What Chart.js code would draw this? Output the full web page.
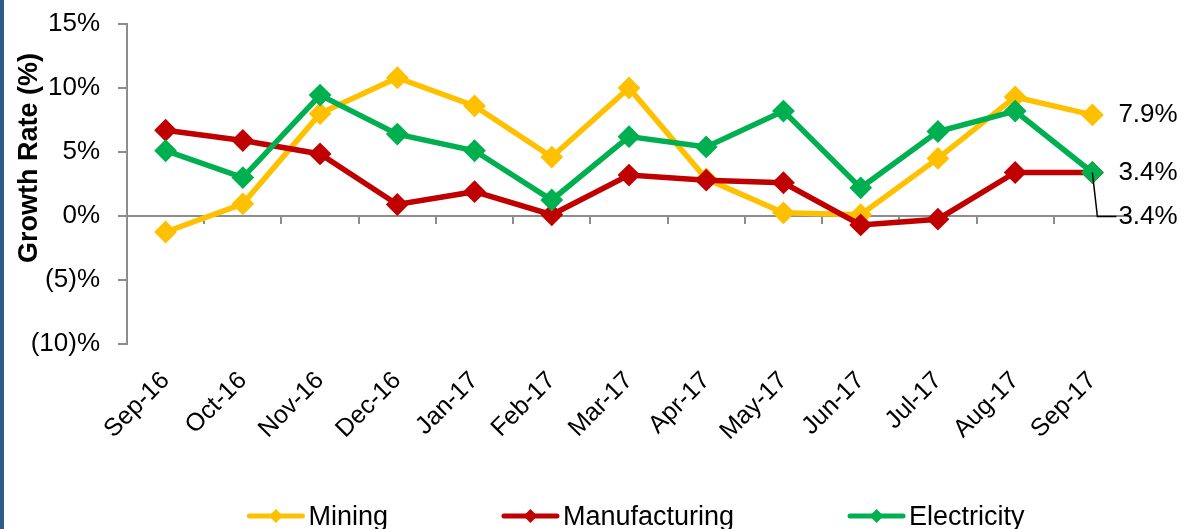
<!DOCTYPE html>
<html>
<head>
<meta charset="utf-8">
<title>Growth Rate</title>
<script src="https://cdn.jsdelivr.net/npm/chart.js@4.4.1/dist/chart.umd.min.js"></script>
<style>
  html, body { margin: 0; padding: 0; background: #fff; overflow: hidden; }
  #wrap { position: relative; width: 1187px; height: 529px; }
  #edge { position: absolute; left: 0; top: 0; width: 4px; height: 529px; background: #2c5d8a; }
</style>
</head>
<body>
<div id="wrap">
  <canvas id="growth"></canvas>
  <div id="edge"></div>
</div>
<script>
// monthly growth rates, %
const months = ['Sep-16', 'Oct-16', 'Nov-16', 'Dec-16', 'Jan-17', 'Feb-17', 'Mar-17',
                'Apr-17', 'May-17', 'Jun-17', 'Jul-17', 'Aug-17', 'Sep-17'];
const mining        = [-1.25, 0.95, 8.0, 10.8, 8.6, 4.6, 10.0, 2.9, 0.25, 0.1, 4.5, 9.3, 7.9];
const manufacturing = [6.7, 5.9, 4.85, 0.9, 1.9, 0.1, 3.2, 2.8, 2.6, -0.7, -0.25, 3.4, 3.4];
const electricity   = [5.1, 3.0, 9.45, 6.4, 5.1, 1.25, 6.2, 5.4, 8.2, 2.2, 6.6, 8.2, 3.4];
const yTicks = [-10, -5, 0, 5, 10, 15];

const FONT = '"Liberation Sans", Arial, sans-serif';
const AXIS_GREY = '#8c8c8c';

const pct = v => (v < 0 ? '(' + Math.abs(v) + ')%' : v + '%');

function series(label, data, color, order, extra) {
  return Object.assign({
    label, data, order,
    borderColor: color,
    backgroundColor: color,
    borderWidth: 5.5,
    tension: 0,
    pointStyle: 'rectRot',
    pointRadius: 10,
    pointBorderWidth: 2,
    pointBackgroundColor: color,
    pointBorderColor: color
  }, extra || {});
}

// x axis sits on the zero line, with small ticks between months
const zeroAxis = {
  id: 'zeroAxis',
  beforeDatasetsDraw(chart) {
    const { ctx, chartArea, scales: { x, y } } = chart;
    const y0 = Math.round(y.getPixelForValue(0));
    ctx.save();
    ctx.strokeStyle = AXIS_GREY;
    ctx.lineWidth = 2;
    ctx.beginPath();
    ctx.moveTo(chartArea.left, y0);
    ctx.lineTo(chartArea.right, y0);
    for (let i = 1; i < months.length; i++) {
      const bx = Math.round((x.getPixelForValue(i - 1) + x.getPixelForValue(i)) / 2);
      ctx.moveTo(bx, y0);
      ctx.lineTo(bx, y0 + 8);
    }
    ctx.stroke();
    ctx.restore();
  }
};

// value of the last month printed right of each line
const endLabels = {
  id: 'endLabels',
  afterDatasetsDraw(chart) {
    const { ctx } = chart;
    ctx.save();
    ctx.font = '26px ' + FONT;
    ctx.fillStyle = '#000';
    ctx.textBaseline = 'middle';
    chart.data.datasets.forEach((ds, i) => {
      const last = ds.data.length - 1;
      const pt = chart.getDatasetMeta(i).data[last];
      const drop = ds.endLabelDrop || 0;
      const tx = pt.x + 26;
      const ty = pt.y + drop;
      if (drop) {
        ctx.strokeStyle = '#000';
        ctx.lineWidth = 1.5;
        ctx.beginPath();
        ctx.moveTo(pt.x, pt.y);
        ctx.lineTo(pt.x + 5, ty);
        ctx.lineTo(tx - 2, ty);
        ctx.stroke();
      }
      ctx.fillText(ds.data[last].toFixed(1) + '%', tx, ty);
    });
    ctx.restore();
  }
};

// axis title and legend row
const decorations = {
  id: 'decorations',
  afterDraw(chart) {
    const { ctx } = chart;
    ctx.save();
    ctx.fillStyle = '#000';
    ctx.font = 'bold 27px ' + FONT;
    ctx.textAlign = 'center';
    ctx.textBaseline = 'alphabetic';
    ctx.translate(37, 158);
    ctx.rotate(-Math.PI / 2);
    ctx.fillText('Growth Rate (%)', 0, 0);
    ctx.restore();

    ctx.save();
    ctx.font = '27px ' + FONT;
    const markW = 57, markGap = 4, itemGap = 114, ly = 516;
    const items = chart.data.datasets.map(ds => ({
      ds, w: markW + markGap + ctx.measureText(ds.label).width
    }));
    const total = items.reduce((s, it) => s + it.w, 0) + itemGap * (items.length - 1);
    let lx = 636 - total / 2;
    items.forEach(({ ds, w }) => {
      ctx.strokeStyle = ds.borderColor;
      ctx.fillStyle = ds.borderColor;
      ctx.lineWidth = 5;
      ctx.lineCap = 'round';
      ctx.beginPath();
      ctx.moveTo(lx + 2, ly);
      ctx.lineTo(lx + markW - 2, ly);
      ctx.stroke();
      const cx = lx + markW / 2, r = 7;
      ctx.beginPath();
      ctx.moveTo(cx, ly - r);
      ctx.lineTo(cx + r, ly);
      ctx.lineTo(cx, ly + r);
      ctx.lineTo(cx - r, ly);
      ctx.closePath();
      ctx.fill();
      ctx.fillStyle = '#000';
      ctx.textBaseline = 'alphabetic';
      ctx.fillText(ds.label, lx + markW + markGap, 525);
      lx += w + itemGap;
    });
    ctx.restore();
  }
};

new Chart(document.getElementById('growth'), {
  type: 'line',
  data: {
    labels: months,
    datasets: [
      series('Mining', mining, '#FFC000', 3),
      series('Manufacturing', manufacturing, '#C00000', 2, { endLabelDrop: 44 }),
      series('Electricity', electricity, '#00B050', 1)
    ]
  },
  options: {
    responsive: true,
    maintainAspectRatio: false,
    animation: false,
    events: [],
    layout: { padding: { left: 0, right: 56, top: 24, bottom: 0 } },
    plugins: {
      legend: { display: false },
      tooltip: { enabled: false }
    },
    scales: {
      x: {
        offset: true,
        grid: { display: false, drawTicks: false },
        border: { display: false },
        ticks: {
          autoSkip: false,
          minRotation: 45,
          maxRotation: 45,
          padding: 22,
          color: '#000',
          font: { family: FONT, size: 25 }
        },
        afterFit(scale) { scale.height = 185; }
      },
      y: {
        min: yTicks[0],
        max: yTicks[yTicks.length - 1],
        afterBuildTicks(scale) { scale.ticks = yTicks.map(v => ({ value: v })); },
        grid: {
          drawOnChartArea: false,
          drawTicks: true,
          tickLength: 9,
          color: AXIS_GREY,
          lineWidth: 2
        },
        border: { display: true, color: AXIS_GREY, width: 2 },
        ticks: {
          padding: 18,
          color: '#000',
          font: { family: FONT, size: 26 },
          callback: v => pct(v)
        },
        afterFit(scale) {
          scale.width = 127;
          // top/bottom room is set by the layout padding and the x axis
          scale.paddingTop = 0;
          scale.paddingBottom = 0;
        }
      }
    }
  },
  plugins: [zeroAxis, endLabels, decorations]
});
</script>
</body>
</html>
